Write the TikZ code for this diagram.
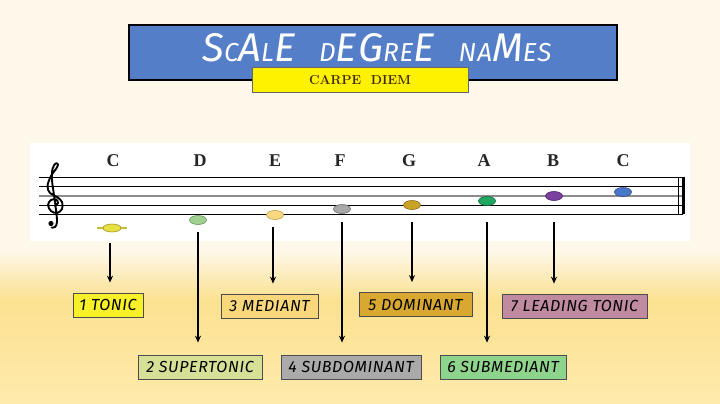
\documentclass[tikz,border=0pt]{standalone}
\usepackage{fontspec}
\usetikzlibrary{arrows.meta,shapes.geometric}
\newfontfamily\boxfont{Fira Sans}[LetterSpace=4]
\newfontfamily\titlefont{Fira Sans}[LetterSpace=4]
\newfontfamily\letfont{Liberation Serif}
\definecolor{bgtop}{RGB}{253,248,234}
\definecolor{bgmid}{RGB}{252,225,145}
\definecolor{bgbot}{RGB}{254,234,172}
\definecolor{banner}{RGB}{84,126,200}
\definecolor{subtext}{RGB}{60,40,10}
\definecolor{ledger}{RGB}{200,190,60}
\definecolor{f1}{RGB}{232,224,64}\definecolor{d1}{RGB}{160,150,30}
\definecolor{f2}{RGB}{160,208,144}\definecolor{d2}{RGB}{100,150,90}
\definecolor{f3}{RGB}{250,216,128}\definecolor{d3}{RGB}{190,160,80}
\definecolor{f4}{RGB}{168,168,168}\definecolor{d4}{RGB}{110,110,110}
\definecolor{f5}{RGB}{201,162,39}\definecolor{d5}{RGB}{140,110,20}
\definecolor{f6}{RGB}{32,168,96}\definecolor{d6}{RGB}{16,110,60}
\definecolor{f7}{RGB}{123,63,160}\definecolor{d7}{RGB}{80,32,110}
\definecolor{f8}{RGB}{74,120,200}\definecolor{d8}{RGB}{42,74,144}
\definecolor{c1}{RGB}{248,240,40}
\definecolor{c2}{RGB}{214,224,150}
\definecolor{c3}{RGB}{249,215,122}
\definecolor{c4}{RGB}{170,170,170}
\definecolor{c5}{RGB}{217,168,48}
\definecolor{c6}{RGB}{143,212,140}
\definecolor{c7}{RGB}{192,138,160}
\newcommand{\Bg}[1]{{\fontsize{40}{40}\selectfont #1}}
\newcommand{\Sm}[1]{{\fontsize{26}{26}\selectfont #1}}
\tikzset{
  lbl/.style={draw=black!70, line width=0.7pt, minimum height=24pt, inner sep=0pt,
    font=\boxfont\itshape\fontsize{16}{16}\selectfont, text=black},
  notehead/.style={ellipse, minimum width=17pt, minimum height=9pt, inner sep=0pt, line width=0.6pt},
  letter/.style={font=\letfont\bfseries\fontsize{18}{18}\selectfont, text=black!85},
  arr/.style={line width=1.3pt, -{Stealth[length=7pt,width=6pt]}, shorten >=10pt},
  staffline/.style={line width=0.9pt, black}
}
\begin{document}
\begin{tikzpicture}[x=1pt,y=-1pt]
\useasboundingbox (0,0) rectangle (720,404);
% background
\fill[bgtop] (0,0) rectangle (720,250);
\shade[top color=bgtop, bottom color=bgmid] (0,249.5) rectangle (720,300);
\shade[top color=bgmid, bottom color=bgbot] (0,299.5) rectangle (720,404);
% title banner
\node[draw=black, line width=1.6pt, fill=banner, minimum width=488pt, minimum height=55pt, inner sep=0pt] (banner) at (373,52.5) {};
\node[anchor=base, text=white, font=\titlefont\itshape] (title) at (377,62)
  {\Bg{S}\Sm{C}\Bg{A}\Sm{L}\Bg{E}\hspace{24pt}\Sm{D}\Bg{EG}\Sm{RE}\Bg{E}\hspace{24pt}\Sm{NA}\Bg{M}\Sm{ES}};
\node[draw=black!60, line width=1pt, fill=yellow, minimum width=216pt, minimum height=24pt, inner sep=0pt,
  font=\bfseries\fontsize{13}{13}\selectfont, text=subtext] (sub) at (360,80) {CARPE\ \ DIEM};
% staff panel
\fill[white] (30,143) rectangle (690,241);
\foreach \yy in {177,186.5,205,214} {\draw[staffline] (39,\yy) -- (683,\yy);}
\draw[line width=2pt, black!45] (39,196) -- (683,196);
\draw[line width=0.9pt] (678,177) -- (678,214);
\draw[line width=2.6pt] (683.5,176.6) -- (683.5,214.4);
% treble clef (drawn)
\draw[line width=1.9pt, line cap=round, line join=round] plot[smooth, tension=0.6] coordinates {
  (55,206) (58,203) (56,199.5) (51,200) (48,205) (51,211) (57,213) (62,209) (62,202) (57,197)
  (50,193) (47.5,186) (51,176) (56,169) (58,164.5) (55.5,163.5) (52.5,169) (52,180) (54,195)
  (56,210) (57,222) (55,227) (51.5,227.5) };
\fill (51,223.5) circle (2.6);
% ledger line
\draw[line width=1.8pt, ledger] (97,228) -- (127,228);
% noteheads
\node[notehead, fill=f1, draw=d1, minimum width=18pt, minimum height=8pt] (n1) at (112,228) {};
\node[notehead, fill=f2, draw=d2] (n2) at (198,220) {};
\node[notehead, fill=f3, draw=d3] (n3) at (275,215) {};
\node[notehead, fill=f4, draw=d4] (n4) at (342,209) {};
\node[notehead, fill=f5, draw=d5] (n5) at (412,205) {};
\node[notehead, fill=f6, draw=d6] (n6) at (487,201) {};
\node[notehead, fill=f7, draw=d7] (n7) at (554,196) {};
\node[notehead, fill=f8, draw=d8] (n8) at (623,192) {};
% letters
\node[letter] (l1) at (113,161) {C};
\node[letter] (l2) at (200,161) {D};
\node[letter] (l3) at (275,161) {E};
\node[letter] (l4) at (340,161) {F};
\node[letter] (l5) at (409,161) {G};
\node[letter] (l6) at (484,161) {A};
\node[letter] (l7) at (553,161) {B};
\node[letter] (l8) at (623,161) {C};
% label boxes
\node[lbl, fill=c1, minimum width=70pt] (b1) at (108,305) {1 TONIC};
\node[lbl, fill=c2, minimum width=124pt] (b2) at (200,367) {2 SUPERTONIC};
\node[lbl, fill=c3, minimum width=97pt] (b3) at (269.5,306) {3 MEDIANT};
\node[lbl, fill=c4, minimum width=140pt] (b4) at (351,367) {4 SUBDOMINANT};
\node[lbl, fill=c5, minimum width=113pt] (b5) at (415.5,304.5) {5 DOMINANT};
\node[lbl, fill=c6, minimum width=126pt] (b6) at (503,367) {6 SUBMEDIANT};
\node[lbl, fill=c7, minimum width=145pt] (b7) at (574.5,306) {7 LEADING TONIC};
% arrows
\coordinate (s1) at (110,243);
\coordinate (s2) at (198,232);
\coordinate (s3) at (273,227);
\coordinate (s4) at (342,222);
\coordinate (s5) at (412,222);
\coordinate (s6) at (487,222);
\coordinate (s7) at (554,222);
\draw[arr] (s1) -- (s1 |- b1.north);
\draw[arr,shorten >=12pt] (s2) -- (s2 |- b2.north);
\draw[arr] (s3) -- (s3 |- b3.north);
\draw[arr,shorten >=12pt] (s4) -- (s4 |- b4.north);
\draw[arr] (s5) -- (s5 |- b5.north);
\draw[arr,shorten >=12pt] (s6) -- (s6 |- b6.north);
\draw[arr] (s7) -- (s7 |- b7.north);
\end{tikzpicture}
\end{document}
